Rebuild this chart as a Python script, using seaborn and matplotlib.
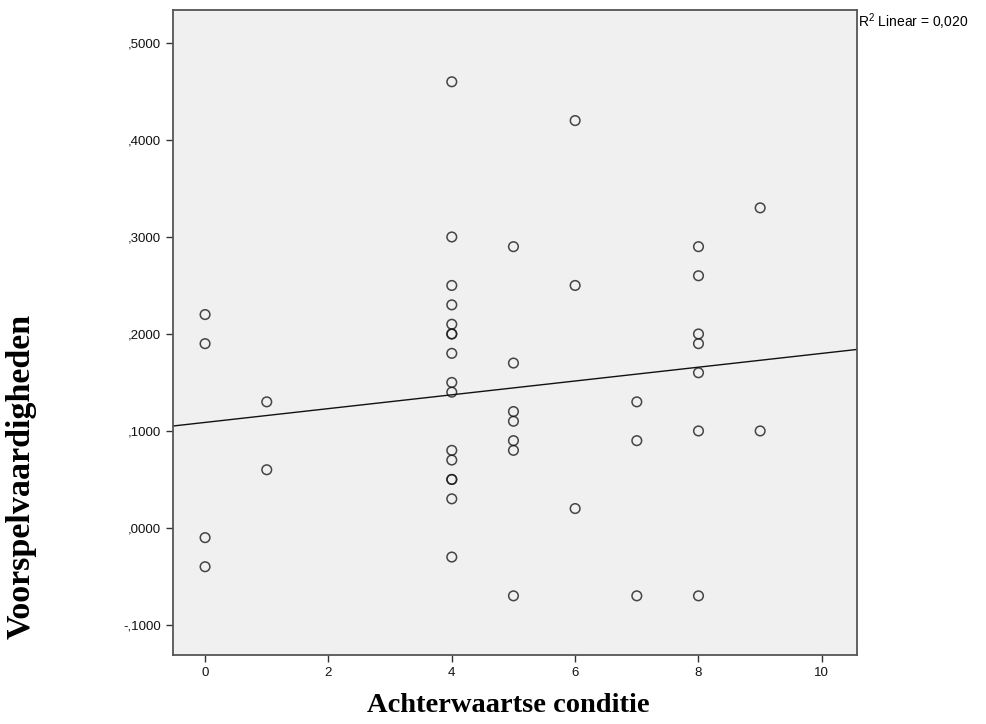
import numpy as np
import pandas as pd
import matplotlib
matplotlib.use('Agg')
import matplotlib.pyplot as plt
import seaborn as sns
from matplotlib.ticker import FuncFormatter

# Scatter data
achterwaarts = [0, 0, 0, 0,
                1, 1,
                4, 4, 4, 4, 4, 4, 4, 4, 4, 4, 4, 4, 4, 4, 4, 4,
                5, 5, 5, 5, 5, 5, 5,
                6, 6, 6,
                7, 7, 7,
                8, 8, 8, 8, 8, 8, 8,
                9, 9]
voorspel = [0.22, 0.19, -0.01, -0.04,
            0.13, 0.06,
            0.46, 0.30, 0.25, 0.23, 0.21, 0.20, 0.20, 0.18, 0.15, 0.14, 0.08, 0.07, 0.05, 0.05, 0.03, -0.03,
            0.29, 0.17, 0.12, 0.11, 0.09, 0.08, -0.07,
            0.42, 0.25, 0.02,
            0.13, 0.09, -0.07,
            0.29, 0.26, 0.20, 0.19, 0.16, 0.10, -0.07,
            0.33, 0.10]
x_ticks = [0, 2, 4, 6, 8, 10]
y_ticks = [-0.1, 0.0, 0.1, 0.2, 0.3, 0.4, 0.5]
r2_label = r"R$^2$ Linear = 0,020"

df = pd.DataFrame({'x': achterwaarts, 'y': voorspel})

sns.set_style('white')
plt.rcParams['font.family'] = ['Liberation Sans', 'DejaVu Sans']
plt.rcParams['mathtext.default'] = 'regular'
plt.rcParams['text.color'] = 'black'

fig = plt.figure(figsize=(9.86, 7.24), dpi=100)
ax = fig.add_axes([173/986, 1 - 655/724, (857-173)/986, (655-10)/724])
ax.set_facecolor('#f0f0f0')
ax.set_xlim(-0.52, 10.57)
ax.set_ylim(-0.131, 0.534)

sns.regplot(data=df, x='x', y='y', ax=ax, ci=None, truncate=False,
            scatter_kws={'s': 48, 'facecolors': 'none', 'edgecolors': '#1a1a1a', 'linewidths': 1.1},
            line_kws={'color': '#111111', 'linewidth': 1.0})
ax.set_xlim(-0.52, 10.57)
ax.set_ylim(-0.131, 0.534)

ax.set_xticks(x_ticks)
ax.set_yticks(y_ticks)
ax.yaxis.set_major_formatter(FuncFormatter(lambda v, p: f"{v:.4f}".replace('0.', ',')))
ax.tick_params(axis='both', which='both', direction='out', length=5, width=1,
               color='#333333', labelcolor='#111111', labelsize=9.5,
               left=True, bottom=True, top=False, right=False)
for s in ax.spines.values():
    s.set_color('#555555')
    s.set_linewidth(1.3)

ax.set_xlabel('')
ax.set_ylabel('')
fig.text(508/986, 1 - 705/724, 'Achterwaartse conditie', color='black',
         family='Liberation Serif', fontweight='bold', fontsize=20.5, ha='center', va='center')
fig.text(21/986, 1 - 476/724, 'Voorspelvaardigheden', family='Liberation Serif', color='black',
         fontweight='bold', fontsize=24.5, rotation=90, ha='center', va='center')
fig.text(858/986, 1 - 22/724, r2_label, fontsize=10, ha='left', va='center', color='black')

fig.savefig('out.png', dpi=100)
